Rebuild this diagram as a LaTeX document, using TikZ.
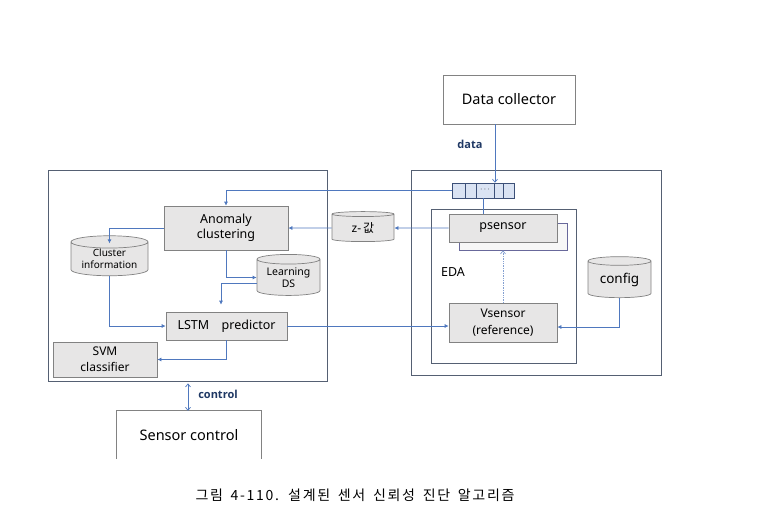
\documentclass[tikz,border=0pt]{standalone}
\usepackage{fontspec}
\setmainfont{Noto Sans}
\newfontfamily\krfont{Noto Sans CJK KR}
\newfontfamily\capfont[LetterSpace=12,WordSpace=1.6]{Noto Sans CJK KR}
\newfontfamily\tagfont{Open Sans}
\usetikzlibrary{shapes.geometric,arrows.meta,calc}

\definecolor{linec}{RGB}{79,120,190}
\definecolor{boxc}{RGB}{130,130,130}
\definecolor{outerc}{RGB}{85,96,115}
\definecolor{fillc}{RGB}{231,230,230}
\definecolor{queuec}{RGB}{218,227,243}
\definecolor{qline}{RGB}{60,80,120}
\definecolor{labelc}{RGB}{31,56,100}

\tikzset{
	blk/.style={rectangle, draw=boxc, fill=fillc, line width=0.7pt, inner sep=0pt, align=center},
	plainbox/.style={rectangle, draw=boxc, fill=white, line width=0.7pt, inner sep=0pt},
	outer/.style={rectangle, draw=outerc, line width=0.8pt, inner sep=0pt},
	db/.style={cylinder, shape border rotate=90, aspect=0.22, draw=boxc, fill=fillc, line width=0.7pt, inner sep=0pt, align=center},
	conn/.style={draw=linec, line width=0.7pt},
	arr/.style={conn, -{Latex[length=4pt,width=4pt]}},
	openarr/.style={conn, -{Straight Barb[length=3pt,width=5pt]}},
	tag/.style={font=\tagfont\bfseries\fontsize{11}{13}\selectfont, text=labelc}
}

\begin{document}
\begin{tikzpicture}[x=1pt,y=-1pt]
	\useasboundingbox (0,0) rectangle (777,531);

	% frames
	\node[outer, minimum width=279, minimum height=211] (leftbox) at (187.5,275.5) {};
	\node[outer, minimum width=250, minimum height=205] (rightbox) at (536,272.5) {};
	\node[outer, minimum width=145, minimum height=154] (edabox) at (503.5,286) {};

	% right side
	\node[plainbox, minimum width=132, minimum height=49, font=\fontsize{14.5}{17}\selectfont] (datac) at (509,99.5) {Data collector};
	\node[tag] (datalbl) at (470,144) {data};

	\node[rectangle, draw=qline, fill=queuec, line width=0.6pt, minimum width=62, minimum height=15, inner sep=0pt] (queue) at (483,190.5) {};
	\foreach \cx in {465,476,494,503}
		\draw[qline, line width=0.6pt] (\cx,183) -- (\cx,198);
	\node[font=\footnotesize] (qdots) at (485,189.5) {$\cdots$};

	\node[blk, fill=gray!6, draw=boxc!80!blue, minimum width=108, minimum height=27] (pshadow) at (513,236.5) {};
	\node[blk, minimum width=108, minimum height=28, font=\fontsize{12.5}{15}\selectfont] (psensor) at (503,228) {psensor};
	\node[font=\fontsize{12.5}{15}\selectfont] (edalbl) at (453,272) {EDA};
	\node[blk, minimum width=108, minimum height=39, font=\fontsize{12}{17}\selectfont] (vsensor) at (503,322.5) {Vsensor\\(reference)};
	\node[db, minimum width=63, minimum height=41, font=\fontsize{13.5}{16}\selectfont] (config) at (619.5,279.5) {config};

	% left side
	\node[blk, minimum width=124, minimum height=44, font=\fontsize{12.5}{15}\selectfont] (anomaly) at (226,228) {Anomaly\\clustering};
	\node[db, minimum width=77, minimum height=40, font=\fontsize{10}{12}\selectfont] (clus) at (109.5,259) {Cluster\\information};
	\node[db, minimum width=63, minimum height=41, font=\fontsize{10.5}{12.5}\selectfont] (learnds) at (288.5,277.5) {Learning\\DS};
	\node[blk, minimum width=121, minimum height=28, font=\fontsize{12.5}{15}\selectfont] (lstm) at (226.5,326) {LSTM\quad predictor};
	\node[blk, minimum width=104, minimum height=35, font=\fontsize{12}{16}\selectfont] (svm) at (105,359.5) {SVM\\classifier};
	\node[db, minimum width=62, minimum height=30, font=\fontsize{12}{14}\selectfont] (zval) at (363,228) {z-\,{\krfont 값}};

	% bottom
	\node[minimum width=144, minimum height=48, font=\fontsize{14.5}{17}\selectfont] (sensctl) at (189,435) {Sensor control};
	\draw[boxc, line width=0.7pt] (sensctl.south west) -- (sensctl.north west) -- (sensctl.north east) -- (sensctl.south east);
	\node[tag] (ctllbl) at (218,394) {control};
	\node[font=\capfont\fontsize{14}{16}\selectfont] (caption) at (355,495) {그림 4-110. 설계된 센서 신뢰성 진단 알고리즘};

	% data flow
	\draw[openarr] ([xshift=-14pt]datac.south) -- ([xshift=12pt]queue.north);
	\draw[arr] (queue.west) -| (anomaly.north);
	\draw[conn] (queue.south) -- (queue.south |- psensor.north);
	\draw[arr] (psensor.west) -- (zval.east);
	\draw[arr] (zval.west) -- (anomaly.east);
	\draw[arr] (anomaly.west) -| ($(clus.north)+(0,8)$);
	\draw[arr] (anomaly.south) |- (learnds.west);
	\draw[arr] ($(learnds.west)+(0,5.5)$) -| ($(lstm.north)+(-5.5,-7)$);
	\draw[arr] (clus.south) |- (lstm.west);
	\draw[arr] (lstm.east) -- (lstm.east -| vsensor.west);
	\draw[arr] (lstm.south) |- (svm.east);
	\draw[arr] (config.south) |- ($(vsensor.east)+(0,4.5)$);
	\draw[conn, densely dotted, draw=linec!70, -{Straight Barb[length=3pt,width=5pt]}] (vsensor.north) -- (vsensor.north |- pshadow.south);
	\draw[conn, {Straight Barb[length=3pt,width=5pt]}-{Straight Barb[length=3pt,width=5pt]}] ($(leftbox.south)+(0.5,2)$) coordinate (ctltop) -- (ctltop |- sensctl.north);

\end{tikzpicture}
\end{document}
